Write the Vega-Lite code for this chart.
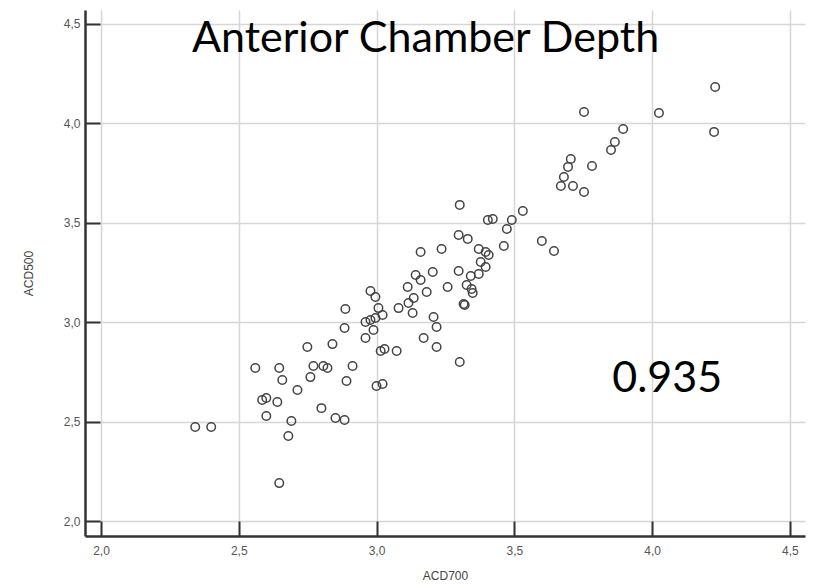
{
  "$schema": "https://vega.github.io/schema/vega-lite/v6.json",
  "width": 720,
  "height": 526,
  "autosize": "none",
  "padding": {"left": 85, "top": 10, "right": 12, "bottom": 52},
  "background": "white",
  "config": {
    "view": {"stroke": null},
    "axis": {
      "labelFont": "Liberation Sans",
      "labelFontSize": 12,
      "labelColor": "#555555",
      "titleFont": "Liberation Sans",
      "titleFontSize": 12,
      "titleFontWeight": "normal",
      "titleColor": "#444444",
      "domainColor": "#333333",
      "domainWidth": 2.5,
      "tickColor": "#333333",
      "tickWidth": 2,
      "tickSize": -15,
      "gridColor": "#d6d6d6",
      "gridWidth": 1.5
    }
  },
  "datasets": {
    "pts": [
      {"ACD700": 2.342, "ACD500": 2.473}, {"ACD700": 2.400, "ACD500": 2.473},
      {"ACD700": 2.560, "ACD500": 2.770}, {"ACD700": 2.647, "ACD500": 2.770},
      {"ACD700": 2.658, "ACD500": 2.709}, {"ACD700": 2.713, "ACD500": 2.659},
      {"ACD700": 2.585, "ACD500": 2.609}, {"ACD700": 2.600, "ACD500": 2.619},
      {"ACD700": 2.640, "ACD500": 2.599}, {"ACD700": 2.600, "ACD500": 2.528},
      {"ACD700": 2.691, "ACD500": 2.503}, {"ACD700": 2.680, "ACD500": 2.428},
      {"ACD700": 2.647, "ACD500": 2.191}, {"ACD700": 2.749, "ACD500": 2.875},
      {"ACD700": 2.760, "ACD500": 2.724}, {"ACD700": 2.771, "ACD500": 2.780},
      {"ACD700": 2.807, "ACD500": 2.780}, {"ACD700": 2.822, "ACD500": 2.770},
      {"ACD700": 2.840, "ACD500": 2.890}, {"ACD700": 2.800, "ACD500": 2.568},
      {"ACD700": 2.851, "ACD500": 2.518}, {"ACD700": 2.884, "ACD500": 2.508},
      {"ACD700": 2.891, "ACD500": 2.704}, {"ACD700": 2.913, "ACD500": 2.780},
      {"ACD700": 2.884, "ACD500": 2.971}, {"ACD700": 2.887, "ACD500": 3.066},
      {"ACD700": 3.000, "ACD500": 2.679}, {"ACD700": 3.022, "ACD500": 2.689},
      {"ACD700": 2.960, "ACD500": 2.921}, {"ACD700": 2.989, "ACD500": 2.961},
      {"ACD700": 2.960, "ACD500": 3.001}, {"ACD700": 2.978, "ACD500": 3.011},
      {"ACD700": 2.996, "ACD500": 3.021}, {"ACD700": 3.007, "ACD500": 3.071},
      {"ACD700": 3.022, "ACD500": 3.036}, {"ACD700": 3.029, "ACD500": 2.865},
      {"ACD700": 3.015, "ACD500": 2.855}, {"ACD700": 3.073, "ACD500": 2.855},
      {"ACD700": 3.080, "ACD500": 3.071}, {"ACD700": 3.116, "ACD500": 3.097},
      {"ACD700": 3.131, "ACD500": 3.046}, {"ACD700": 2.978, "ACD500": 3.157},
      {"ACD700": 2.996, "ACD500": 3.127}, {"ACD700": 3.135, "ACD500": 3.122},
      {"ACD700": 3.207, "ACD500": 3.026}, {"ACD700": 3.218, "ACD500": 2.976},
      {"ACD700": 3.171, "ACD500": 2.921}, {"ACD700": 3.218, "ACD500": 2.875},
      {"ACD700": 3.302, "ACD500": 2.800}, {"ACD700": 3.316, "ACD500": 3.092},
      {"ACD700": 3.142, "ACD500": 3.237}, {"ACD700": 3.160, "ACD500": 3.212},
      {"ACD700": 3.204, "ACD500": 3.253}, {"ACD700": 3.113, "ACD500": 3.177},
      {"ACD700": 3.182, "ACD500": 3.152}, {"ACD700": 3.258, "ACD500": 3.177},
      {"ACD700": 3.160, "ACD500": 3.353}, {"ACD700": 3.236, "ACD500": 3.368},
      {"ACD700": 3.298, "ACD500": 3.439}, {"ACD700": 3.331, "ACD500": 3.419},
      {"ACD700": 3.302, "ACD500": 3.590}, {"ACD700": 3.298, "ACD500": 3.258},
      {"ACD700": 3.342, "ACD500": 3.232}, {"ACD700": 3.371, "ACD500": 3.242},
      {"ACD700": 3.327, "ACD500": 3.187}, {"ACD700": 3.345, "ACD500": 3.167},
      {"ACD700": 3.349, "ACD500": 3.147}, {"ACD700": 3.320, "ACD500": 3.087},
      {"ACD700": 3.371, "ACD500": 3.368}, {"ACD700": 3.396, "ACD500": 3.353},
      {"ACD700": 3.407, "ACD500": 3.338}, {"ACD700": 3.378, "ACD500": 3.303},
      {"ACD700": 3.396, "ACD500": 3.278}, {"ACD700": 3.404, "ACD500": 3.514},
      {"ACD700": 3.422, "ACD500": 3.519}, {"ACD700": 3.473, "ACD500": 3.469},
      {"ACD700": 3.491, "ACD500": 3.514}, {"ACD700": 3.531, "ACD500": 3.559},
      {"ACD700": 3.462, "ACD500": 3.383}, {"ACD700": 3.600, "ACD500": 3.408},
      {"ACD700": 3.644, "ACD500": 3.358}, {"ACD700": 3.705, "ACD500": 3.821},
      {"ACD700": 3.695, "ACD500": 3.781}, {"ACD700": 3.680, "ACD500": 3.730},
      {"ACD700": 3.669, "ACD500": 3.685}, {"ACD700": 3.713, "ACD500": 3.685},
      {"ACD700": 3.753, "ACD500": 3.655}, {"ACD700": 3.782, "ACD500": 3.786},
      {"ACD700": 3.753, "ACD500": 4.057}, {"ACD700": 3.851, "ACD500": 3.866},
      {"ACD700": 3.865, "ACD500": 3.906}, {"ACD700": 3.895, "ACD500": 3.972},
      {"ACD700": 4.025, "ACD500": 4.052}, {"ACD700": 4.229, "ACD500": 4.183},
      {"ACD700": 4.225, "ACD500": 3.957}
    ],
    "notes": [
      {"x": 3.178, "y": 4.36, "label": "Anterior Chamber Depth"},
      {"x": 4.055, "y": 2.649, "label": "0.935"}
    ]
  },
  "layer": [
    {
      "data": {"name": "pts"},
      "mark": {"type": "point", "shape": "circle", "filled": false, "size": 72, "stroke": "#444444", "strokeWidth": 1.5, "opacity": 1},
      "encoding": {
        "x": {
          "field": "ACD700", "type": "quantitative",
          "scale": {"domain": [1.942, 4.555], "nice": false, "zero": false},
          "axis": {"values": [2, 2.5, 3, 3.5, 4, 4.5], "format": ".1f", "labelExpr": "replace(datum.label, '.', ',')", "labelPadding": 24, "title": "ACD700", "titlePadding": 14}
        },
        "y": {
          "field": "ACD500", "type": "quantitative",
          "scale": {"domain": [1.925, 4.57], "nice": false, "zero": false},
          "axis": {"values": [2, 2.5, 3, 3.5, 4, 4.5], "format": ".1f", "labelExpr": "replace(datum.label, '.', ',')", "labelPadding": 20, "title": "ACD500", "titlePadding": 28}
        }
      }
    },
    {
      "data": {"name": "notes"},
      "mark": {"type": "text", "font": "Lato", "fontSize": 43, "color": "black", "align": "center", "baseline": "alphabetic"},
      "encoding": {
        "x": {"field": "x", "type": "quantitative"},
        "y": {"field": "y", "type": "quantitative"},
        "text": {"field": "label"}
      }
    }
  ]
}
